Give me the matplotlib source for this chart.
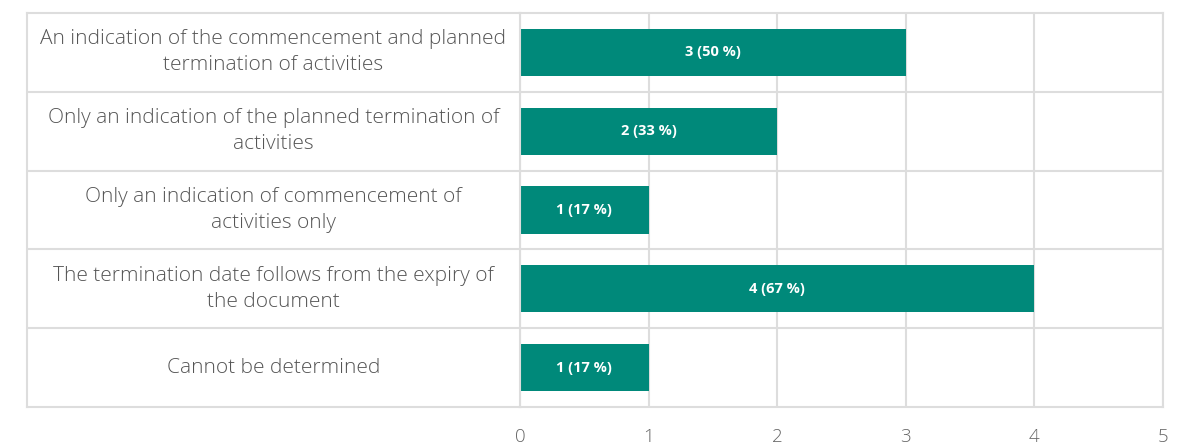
import matplotlib.pyplot as plt

# answer categories and counts
categories = [
    "An indication of the commencement and planned\ntermination of activities",
    "Only an indication of the planned termination of\nactivities",
    "Only an indication of commencement of\nactivities only",
    "The termination date follows from the expiry of\nthe document",
    "Cannot be determined",
]
counts = [3, 2, 1, 4, 1]
percents = [50, 33, 17, 67, 17]
x_ticks = [0, 1, 2, 3, 4, 5]

teal = "#00897A"
grid = "#DDDDDD"
W, H = 1179, 444

plt.rcParams['font.family'] = ['Open Sans', 'DejaVu Sans']

fig = plt.figure(figsize=(W / 100, H / 100), dpi=100)

top, bottom = 13, 407
left_lab, left_bar, right = 27, 520, 1163
ax_h = (bottom - top) / H
ax_y = 1 - bottom / H

lab = fig.add_axes([left_lab / W, ax_y, (left_bar - left_lab) / W, ax_h])
ax = fig.add_axes([left_bar / W, ax_y, (right - left_bar) / W, ax_h])

n = len(categories)
for a in (lab, ax):
    a.set_ylim(n, 0)
    for s in a.spines.values():
        s.set_color(grid)
        s.set_linewidth(1.5)
    for k in range(1, n):
        a.axhline(k, color=grid, lw=1.5, zorder=0)

lab.set_xlim(0, 1)
lab.set_xticks([])
lab.set_yticks([])
lab.spines['right'].set_visible(False)
for i, c in enumerate(categories):
    lab.text(0.5, i + 0.5, c, ha='center', va='center', fontsize=15,
             color='#555555', fontweight='light', linespacing=1.4)

ypos = [i + 0.5 for i in range(n)]
ax.barh(ypos, counts, height=0.6, color=teal, zorder=2)
for y, c, p in zip(ypos, counts, percents):
    ax.text(c / 2, y, f"{c} ({p} %)", ha='center', va='center', color='white',
            fontsize=10.5, fontweight='bold', zorder=3)

ax.set_xlim(0, 5)
ax.set_xticks(x_ticks)
ax.set_yticks([])
ax.xaxis.grid(True, color=grid, lw=1.5, zorder=0)
ax.tick_params(axis='x', length=0, pad=15, labelsize=13.5, labelcolor='#666666')
for t in ax.get_xticklabels():
    t.set_fontweight('light')

fig.savefig("out.png", dpi=100)
